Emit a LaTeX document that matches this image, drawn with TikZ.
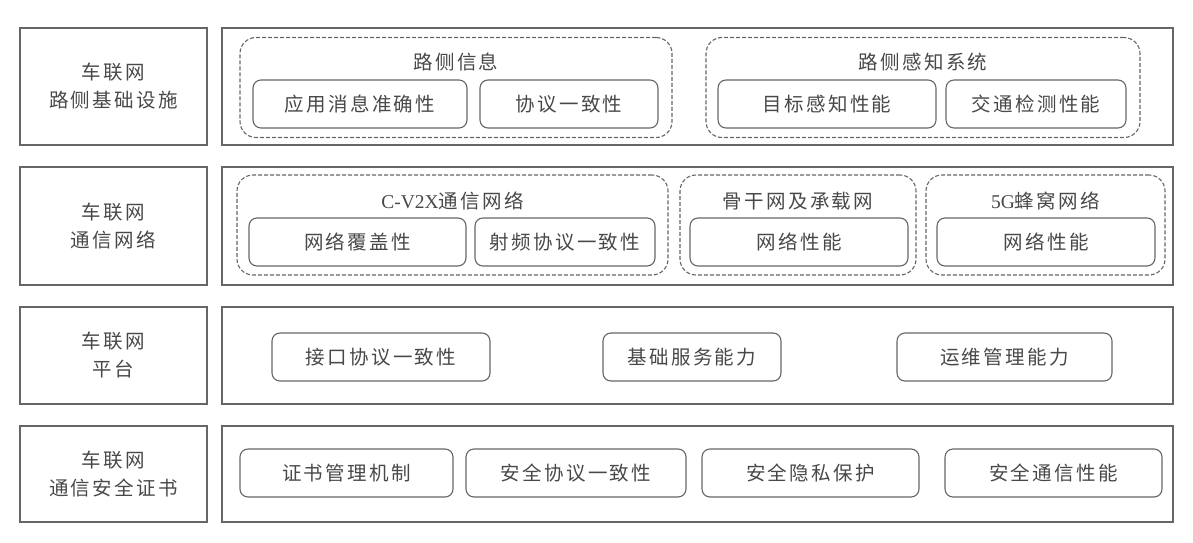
\documentclass[tikz,border=0pt]{standalone}
\usepackage{fontspec}
\setmainfont{Liberation Serif}
\newfontfamily\cjk[LetterSpace=12]{Noto Sans CJK SC}
\usepackage{xcolor}
\usetikzlibrary{positioning}
\definecolor{frame}{HTML}{666666}
\definecolor{ink}{HTML}{484848}

\begin{document}
\begin{tikzpicture}[x=1pt,y=-1pt,
  font=\cjk\fontsize{19.5}{28}\selectfont,text=ink,
  layer/.style={draw=frame,line width=1.4pt,minimum width=951pt,inner sep=0pt},
  side/.style={draw=frame,line width=1.4pt,minimum width=187pt,align=center,inner sep=0pt},
  grp/.style={draw=frame,dash pattern=on 4pt off 2pt,line width=1.1pt,rounded corners=16pt,minimum height=100pt,inner sep=0pt},
  item/.style={draw=frame,line width=1.1pt,rounded corners=8pt,minimum height=48pt,inner sep=0pt},
  ttl/.style={inner sep=0pt}]
  \useasboundingbox (0,0) rectangle (1193,543);

  % row 1
  \node[side,minimum height=117pt] (lab1) at (113.5,86.5) {车联网\\路侧基础设施};
  \node[layer,minimum height=117pt] (row1) at (697.5,86.5) {};
  \node[grp,minimum width=432pt] (rsinfo) at (456,87.5) {};
  \node[ttl] (rsinfot) at (456,62) {路侧信息};
  \node[item,minimum width=214pt] (msgacc) at (360,104) {应用消息准确性};
  \node[item,minimum width=178pt] (proto1) at (569,104) {协议一致性};
  \node[grp,minimum width=434pt] (rssense) at (923,87.5) {};
  \node[ttl] (rssenset) at (923,62) {路侧感知系统};
  \node[item,minimum width=218pt] (target) at (827,104) {目标感知性能};
  \node[item,minimum width=180pt] (traffic) at (1036,104) {交通检测性能};

  % row 2
  \node[side,minimum height=118pt] (lab2) at (113.5,226) {车联网\\通信网络};
  \node[layer,minimum height=118pt] (row2) at (697.5,226) {};
  \node[grp,minimum width=431pt] (cvx) at (452.5,225) {};
  \node[ttl] (cvxt) at (452.5,201) {{\rmfamily C-V2X}通信网络};
  \node[item,minimum width=217pt] (cover) at (357.5,242) {网络覆盖性};
  \node[item,minimum width=180pt] (rfproto) at (565,242) {射频协议一致性};
  \node[grp,minimum width=236pt] (backbone) at (798,225) {};
  \node[ttl] (backbonet) at (798,201) {骨干网及承载网};
  \node[item,minimum width=218pt] (netperf1) at (799,242) {网络性能};
  \node[grp,minimum width=239pt] (cell) at (1045.5,225) {};
  \node[ttl] (cellt) at (1045.5,201) {{\rmfamily 5G}蜂窝网络};
  \node[item,minimum width=218pt] (netperf2) at (1046,242) {网络性能};

  % row 3
  \node[side,minimum height=97pt] (lab3) at (113.5,355.5) {车联网\\平台};
  \node[layer,minimum height=97pt] (row3) at (697.5,355.5) {};
  \node[item,minimum width=218pt] (iface) at (381,357) {接口协议一致性};
  \node[item,minimum width=178pt] (basesvc) at (692,357) {基础服务能力};
  \node[item,minimum width=215pt] (ops) at (1004.5,357) {运维管理能力};

  % row 4
  \node[side,minimum height=96pt] (lab4) at (113.5,474) {车联网\\通信安全证书};
  \node[layer,minimum height=96pt] (row4) at (697.5,474) {};
  \node[item,minimum width=213pt] (certmgmt) at (346.5,473) {证书管理机制};
  \node[item,minimum width=220pt] (secproto) at (576,473) {安全协议一致性};
  \node[item,minimum width=217pt] (privacy) at (810.5,473) {安全隐私保护};
  \node[item,minimum width=217pt] (seccomm) at (1053.5,473) {安全通信性能};
\end{tikzpicture}
\end{document}
